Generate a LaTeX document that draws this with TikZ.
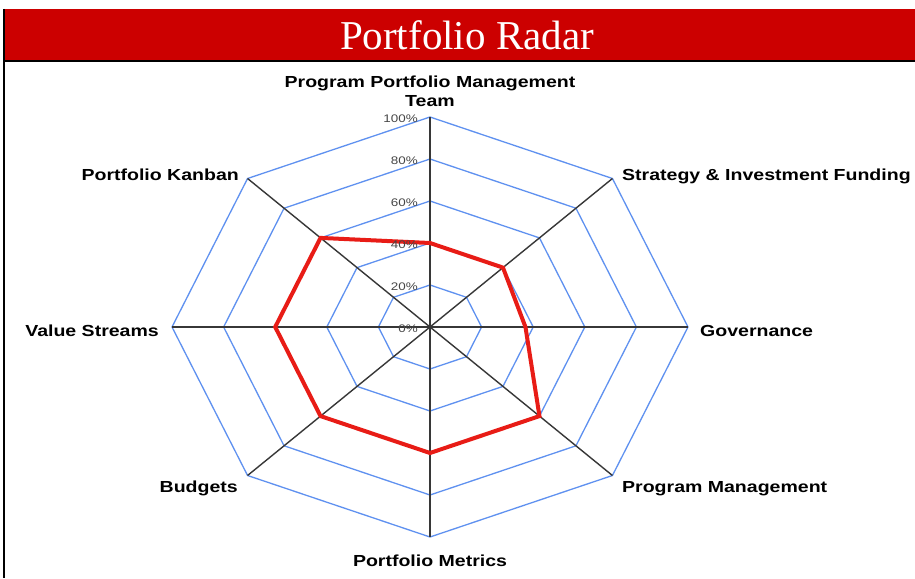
\documentclass[tikz,border=0pt]{standalone}
\usepackage{fontspec}
\setmainfont{Liberation Serif}
\newfontfamily\labfont[FakeStretch=1.22]{Liberation Sans}
\usetikzlibrary{calc}
\definecolor{titlered}{RGB}{204,0,0}
\definecolor{ringblue}{RGB}{95,145,240}
\definecolor{datared}{RGB}{232,28,22}
\definecolor{axisgray}{RGB}{55,55,55}
\definecolor{pctgray}{RGB}{70,70,70}
\tikzset{
  ringline/.style={draw=ringblue, line width=1.3pt},
  axisline/.style={draw=axisgray, line width=1.4pt},
  dataline/.style={draw=datared, line width=4pt},
  axlabel/.style={inner sep=0pt, font=\labfont\bfseries\fontsize{16}{19}\selectfont, text=black},
  pct/.style={inner sep=0pt, anchor=east, font=\labfont\fontsize{11}{12}\selectfont, text=pctgray},
}
\begin{document}
\begin{tikzpicture}[x=1pt,y=-1pt]
\useasboundingbox (0,0) rectangle (915,578);
\fill[white] (0,0) rectangle (915,578);
% title bar
\node (titlebar) [fill=titlered, minimum width=912pt, minimum height=52pt, inner sep=0pt, anchor=north west] at (3,9) {};
\node (title) [anchor=base, inner sep=0pt, text=white, font=\fontsize{41}{44}\selectfont] at (467,50) {Portfolio Radar};
\coordinate (frameend) at (4,578);
\draw[black, line width=2pt] (titlebar.south west) -- (titlebar.south east);
\draw[black, line width=1.5pt] (4,9) -- (frameend);
% radar geometry
\coordinate (c) at (430,327);
\foreach \k/\v in {0/0.40,1/0.40,2/0.37,3/0.60,4/0.60,5/0.60,6/0.60,7/0.60} {
  \coordinate (a\k) at ({430+258*sin(45*\k)},{327-210*cos(45*\k)});
  \coordinate (v\k) at ({430+258*\v*sin(45*\k)},{327-210*\v*cos(45*\k)});
}
% rings
\foreach \i in {1,...,5} {
  \draw[ringline] ($(c)!\i/5!(a0)$) -- ($(c)!\i/5!(a1)$) -- ($(c)!\i/5!(a2)$) -- ($(c)!\i/5!(a3)$)
    -- ($(c)!\i/5!(a4)$) -- ($(c)!\i/5!(a5)$) -- ($(c)!\i/5!(a6)$) -- ($(c)!\i/5!(a7)$) -- cycle;
}
% axes
\foreach \k in {0,...,7} { \draw[axisline] (c) -- (a\k); }
% data
\draw[dataline] (v0) -- (v1) -- (v2) -- (v3) -- (v4) -- (v5) -- (v6) -- (v7) -- cycle;
% percent labels
\foreach \i/\t in {0/0\%,1/20\%,2/40\%,3/60\%,4/80\%,5/100\%} {
  \node[pct] (p\i) at (418,{329-42*\i}) {\t};
}
% axis labels
\node[axlabel, align=center, anchor=base] (l0) at (430,106) {Program Portfolio Management\\Team};
\node[axlabel, anchor=base west] (l1) at (622,180) {Strategy \& Investment Funding};
\node[axlabel, anchor=base west] (l2) at (700,336) {Governance};
\node[axlabel, anchor=base west] (l3) at (622,492) {Program Management};
\node[axlabel, anchor=base] (l4) at (430,566) {Portfolio Metrics};
\node[axlabel, anchor=base east] (l5) at (238,492) {Budgets};
\node[axlabel, anchor=base east] (l6) at (159,336) {Value Streams};
\node[axlabel, anchor=base east] (l7) at (239,180) {Portfolio Kanban};
\end{tikzpicture}
\end{document}
